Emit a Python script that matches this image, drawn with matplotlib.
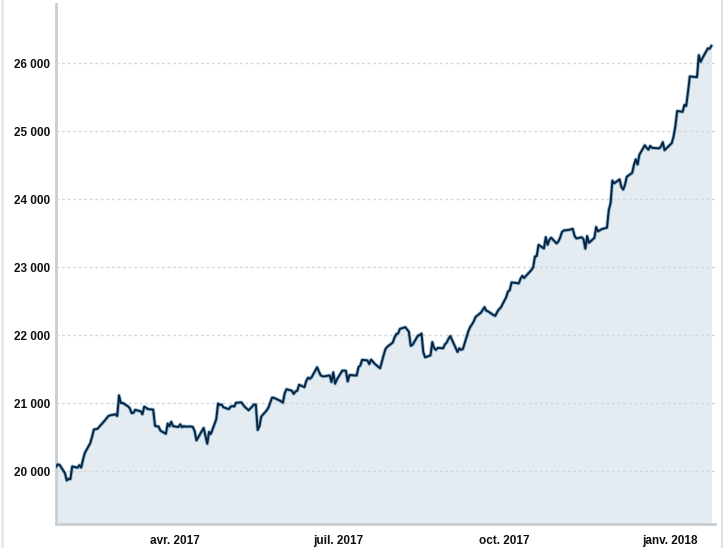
import matplotlib
matplotlib.use("Agg")
import matplotlib.pyplot as plt
import matplotlib.dates as mdates
import matplotlib.ticker as mticker
from matplotlib.lines import Line2D
import pandas as pd
import numpy as np

# ---- data: daily closes, 25 Jan 2017 -> 24 Jan 2018 ----
jan17 = [20068.51, 20100.91, 20093.78, 19971.13, 19864.09]
feb17 = [19890.94, 19884.91, 20071.46, 20052.42, 20090.29, 20054.34, 20172.40, 20269.37,
         20412.16, 20504.41, 20611.86, 20619.77, 20624.05, 20743.00, 20775.60, 20810.32,
         20821.76, 20837.44, 20812.24]
mar17 = [21115.55, 21002.97, 21005.71, 20954.34, 20924.76, 20855.73, 20858.19, 20902.98,
         20881.48, 20837.37, 20950.10, 20934.55, 20914.62, 20905.86, 20668.01, 20661.30,
         20656.58, 20596.72, 20550.98, 20701.50, 20659.32, 20728.49, 20663.22]
apr17 = [20650.21, 20689.24, 20648.15, 20662.95, 20656.10, 20658.02, 20651.30, 20591.86,
         20453.25, 20636.92, 20523.28, 20404.49, 20578.71, 20547.76, 20763.89, 20996.12,
         20975.09, 20981.33, 20940.51]
may17 = [20913.46, 20949.89, 20957.90, 20951.47, 21006.94, 21012.42, 20975.78, 20943.11,
         20919.42, 20896.61, 20981.94, 20979.75, 20606.93, 20663.02, 20804.84, 20894.83,
         20937.91, 21012.28, 21082.95, 21080.28, 21029.47, 21008.65]
jun17 = [21144.18, 21206.29, 21184.04, 21136.23, 21173.69, 21182.53, 21271.97, 21235.67,
         21328.47, 21374.56, 21359.90, 21384.28, 21528.99, 21467.14, 21410.03, 21397.29,
         21394.76, 21409.55, 21310.66, 21454.61, 21287.03, 21349.63]
jul17 = [21479.27, 21478.17, 21320.04, 21414.34, 21408.52, 21409.07, 21532.14, 21553.09,
         21637.74, 21629.72, 21574.73, 21640.75, 21611.78, 21580.07, 21513.17, 21613.43,
         21711.01, 21796.55, 21830.31, 21891.12]
aug17 = [21963.92, 22016.24, 22026.10, 22092.81, 22118.42, 22085.34, 22048.70, 21844.01,
         21858.32, 21993.71, 21998.99, 22024.87, 21750.73, 21674.51, 21703.75, 21899.89,
         21812.09, 21783.40, 21813.67, 21808.40, 21865.37, 21892.43, 21948.10]
sep17 = [21987.56, 21753.31, 21807.64, 21784.78, 21797.79, 22057.37, 22118.86, 22158.18,
         22203.48, 22268.34, 22331.35, 22370.80, 22412.59, 22359.23, 22349.59, 22296.09,
         22284.32, 22340.71, 22381.20, 22405.09]
oct17 = [22557.60, 22641.67, 22661.64, 22775.39, 22773.67, 22761.07, 22830.68, 22872.89,
         22841.01, 22871.72, 22956.96, 22997.44, 23157.60, 23163.04, 23328.63, 23273.96,
         23441.76, 23329.46, 23400.86, 23434.19, 23348.74, 23377.24]
nov17 = [23435.01, 23516.26, 23539.19, 23548.42, 23557.23, 23563.36, 23461.94, 23422.21,
         23439.70, 23409.47, 23271.28, 23458.36, 23358.24, 23430.33, 23590.83, 23526.18,
         23557.99, 23580.78, 23836.71, 23940.68, 24272.35]
dec17 = [24231.59, 24290.05, 24180.64, 24140.91, 24211.48, 24329.16, 24386.03, 24504.80,
         24585.43, 24508.66, 24651.74, 24792.20, 24754.75, 24726.65, 24782.29, 24754.06,
         24746.21, 24774.30, 24837.51, 24719.22]
jan18 = [24824.01, 24922.68, 25075.13, 25295.87, 25283.00, 25385.80, 25369.13, 25574.73,
         25803.19, 25792.86, 26115.65, 26017.81, 26071.72, 26214.60, 26210.81, 26252.12]

holidays = ["2017-02-20", "2017-04-14", "2017-05-29", "2017-07-04", "2017-09-04",
            "2017-11-23", "2017-12-25", "2018-01-01", "2018-01-15"]

tick_dates = ["2017-04-01", "2017-07-01", "2017-10-01", "2018-01-01"]
tick_labels = ["avr. 2017", "juil. 2017", "oct. 2017", "janv. 2018"]
y_ticks = [20000, 21000, 22000, 23000, 24000, 25000, 26000]
y_labels = ["20 000", "21 000", "22 000", "23 000", "24 000", "25 000", "26 000"]

values = np.array(jan17 + feb17 + mar17 + apr17 + may17 + jun17 + jul17 + aug17 +
                  sep17 + oct17 + nov17 + dec17 + jan18)
bday = pd.offsets.CustomBusinessDay(holidays=holidays)
dates = pd.date_range("2017-01-25", periods=len(values), freq=bday)

# ---- figure ----
fig = plt.figure(figsize=(7.24, 5.48), dpi=100)
ax = fig.add_axes([56/724, 1 - 524/548, (715 - 56)/724, (524 - 4)/548])

ymin, ymax = 19225, 26868
ax.set_ylim(ymin, ymax)
ax.set_xlim(pd.Timestamp("2017-01-25"), pd.Timestamp("2018-01-26"))

ax.fill_between(dates, values, ymin, color="#e4ecf1", linewidth=0, zorder=1)
ax.plot(dates, values, color="#2b7fae", linewidth=2.6, alpha=0.5, zorder=3)
ax.plot(dates, values, color="#0a2340", linewidth=1.4, zorder=4)

ax.set_yticks(y_ticks)
ax.set_yticklabels(y_labels)
ax.xaxis.set_major_locator(mticker.FixedLocator(mdates.date2num(pd.to_datetime(tick_dates))))
ax.set_xticklabels(tick_labels)

fam = ["Liberation Sans", "DejaVu Sans"]
for lab in ax.get_xticklabels() + ax.get_yticklabels():
    lab.set_family(fam)
    lab.set_fontweight("bold")
    lab.set_fontsize(8.5)
    lab.set_color("#111111")

ax.tick_params(axis="both", length=0)
ax.tick_params(axis="y", pad=4)
ax.tick_params(axis="x", pad=8)

ax.yaxis.grid(True, color="#d6d6d6", linestyle=(0, (2, 2)), linewidth=1.0, zorder=2)
ax.set_axisbelow(False)
ax.xaxis.grid(False)

for s in ["top", "right"]:
    ax.spines[s].set_visible(False)
for s in ["left", "bottom"]:
    ax.spines[s].set_color("#c9cdd1")
    ax.spines[s].set_linewidth(2.0)

# faint frame edges of the original image
fig.add_artist(Line2D([1.5/724, 1.5/724], [0, 1], color="#e3e8ee", linewidth=2))
fig.add_artist(Line2D([722/724, 722/724], [0, 1], color="#dfe3e8", linewidth=1.5))

fig.savefig("out.png", dpi=100)
